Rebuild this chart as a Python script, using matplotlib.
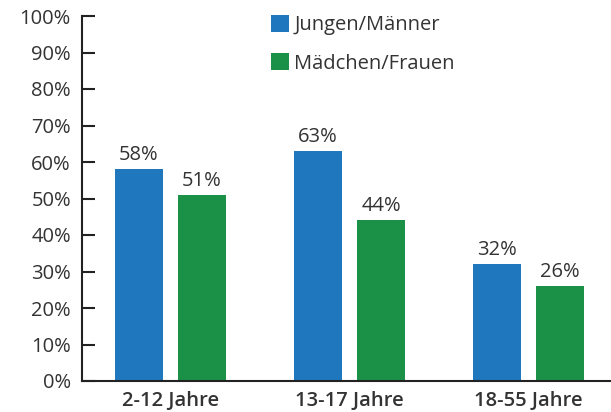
import matplotlib
matplotlib.use("Agg")
import matplotlib.pyplot as plt
import numpy as np

categories = ["2-12 Jahre", "13-17 Jahre", "18-55 Jahre"]
series_names = ["Jungen/Männer", "Mädchen/Frauen"]
boys = [58, 63, 32]
girls = [51, 44, 26]
yticks = list(range(0, 101, 10))

blue = "#1f77bd"
green = "#1a9147"
text_color = "#333333"

plt.rcParams["font.family"] = ["Open Sans", "DejaVu Sans"]

fig = plt.figure(figsize=(6.11, 4.12), dpi=100)
ax = fig.add_axes([82 / 611, 31 / 412, 1 - 82 / 611, 365 / 412])

x = np.arange(len(categories))
width = 0.268
offset = 0.176
b1 = ax.bar(x - offset, boys, width, color=blue, label=series_names[0])
b2 = ax.bar(x + offset, girls, width, color=green, label=series_names[1])

for bars, vals in ((b1, boys), (b2, girls)):
    for rect, v in zip(bars, vals):
        ax.annotate(f"{v}%", (rect.get_x() + rect.get_width() / 2, v),
                    xytext=(0, 3), textcoords="offset points",
                    ha="center", va="bottom", fontsize=14.5, color=text_color)

ax.set_ylim(0, 100)
ax.set_xlim(-0.494, 2.461)
ax.set_yticks(yticks)
ax.set_yticklabels([f"{t}%" for t in yticks], fontsize=14.5, color=text_color)
ax.set_xticks(x)
ax.set_xticklabels(categories, fontsize=14.5, fontweight="semibold", color=text_color)
ax.tick_params(axis="y", direction="in", length=9, width=1.5, colors="#222222",
               labelcolor=text_color, pad=8)
ax.tick_params(axis="x", length=0, pad=7)

for side in ("top", "right"):
    ax.spines[side].set_visible(False)
for side in ("left", "bottom"):
    ax.spines[side].set_linewidth(1.5)
    ax.spines[side].set_color("#222222")

leg = ax.legend(loc="upper left", bbox_to_anchor=(181 / 529, 1.025), frameon=False,
                fontsize=14.5, handlelength=0.9, handleheight=0.9,
                handletextpad=0.25, labelspacing=0.9, borderaxespad=0)
for t in leg.get_texts():
    t.set_color(text_color)

fig.savefig("out.png", dpi=100)
